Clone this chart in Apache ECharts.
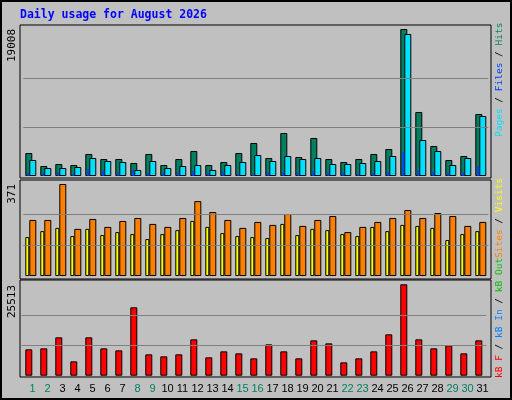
<!DOCTYPE html>
<html><head><meta charset="utf-8">
<script src="https://cdn.jsdelivr.net/npm/echarts@6/dist/echarts.min.js"></script>
<style>html,body{margin:0;padding:0;background:#c0c0c0}#c{width:512px;height:400px}</style>
</head><body><div id="c"></div>
<script>
const days = Array.from({length:31},(_,i)=>String(i+1));
const weekend = ['1','2','8','9','15','16','22','23','29','30'];
const hits  = [2974,1293,1552,1422,2845,2198,2198,1681,2845,1422,2198,3233,1422,1810,2974,4267,2327,5560,2457,4914,2198,1810,2198,2845,3491,19008,8276,3879,2069,2586,8017];
const pages = [2069,1034,1034,1164,2327,1940,1810,776,1940,1034,1293,1422,776,1422,1810,2715,1940,2586,2198,2327,1552,1552,1681,1940,2586,18362,4655,3233,1422,2327,7758];
const files = [430,390,450,300,905,700,430,800,430,400,430,650,400,500,300,200,500,520,450,600,430,400,300,400,517,3100,776,520,400,450,1293];
const visits= [157,181,194,161,190,165,177,169,149,169,185,222,198,173,161,157,153,210,165,190,185,169,161,198,181,206,202,194,145,169,181];
const sites = [226,226,371,190,230,198,222,234,210,198,234,302,258,226,194,218,206,250,202,226,242,177,198,218,234,266,234,254,242,202,218];
const kbf   = [7355,7634,10707,4003,10707,7634,7076,19086,5959,5400,5959,10148,5121,6797,6238,4841,8752,6797,4841,9869,9031,3724,4841,6797,11545,25513,10148,7634,8472,6238,9869];
const maxTop=19008, maxMid=371, maxBot=25513;

const bl = {borderColor:'#000',borderWidth:1};
function ml(m){return {silent:true,symbol:'none',label:{show:false},lineStyle:{color:'#808080',type:'solid',width:1},data:[{yAxis:m/3},{yAxis:2*m/3}]};}
function xa(g,show){return {type:'category',gridIndex:g,data:days,show:show,axisLine:{show:false},axisTick:{show:false},
  axisLabel:{show:show,interval:0,margin:6,fontFamily:'Liberation Sans',fontSize:11,
   formatter:v=>weekend.includes(v)?'{w|'+v+'}':'{n|'+v+'}',
   rich:{w:{color:'#008060',fontFamily:'Liberation Sans',fontSize:11},n:{color:'#000',fontFamily:'Liberation Sans',fontSize:11}}}};}
function ya(g,m){return {type:'value',gridIndex:g,min:0,max:m,show:false,splitLine:{show:false}};}
const F=9.5;
function vtext(x,y,parts){const f=c=>({fill:c,fontFamily:'DejaVu Sans Mono',fontSize:F});
  return {type:'text',x:x,y:y,rotation:Math.PI/2,style:{text:parts.map(p=>'{'+p[1]+'|'+p[0]+'}').join(''),align:'left',verticalAlign:'middle',
  rich:{g:f('#008060'),b:f('#0040ff'),c:f('#00e0ff'),k:f('#000'),y:f('#ffff00'),o:f('#ff8000'),gr:f('#00c000'),bl:f('#0080ff'),r:f('#ff0000')}}};}
function lt(y,t){return {type:'text',x:12,y:y,rotation:Math.PI/2,style:{text:t,align:'right',verticalAlign:'middle',fill:'#000',fontFamily:'DejaVu Sans Mono',fontSize:11}};}

const chart = echarts.init(document.getElementById('c'));
chart.setOption({
  backgroundColor:'#c0c0c0', animation:false,
  grid:[
    {left:23.3,width:465,top:29,height:147},
    {left:20.8,width:465,top:29,height:147},
    {left:23.3,width:465,top:184,height:92},
    {left:21.3,width:465,top:284.3,height:91.4},
    {left:25,width:465,top:376,height:1}
  ],
  xAxis:[xa(0,false),xa(1,false),xa(2,false),xa(3,false),xa(4,true)],
  yAxis:[ya(0,maxTop),ya(1,maxTop),ya(2,maxMid),ya(3,maxBot),ya(4,1)],
  graphic:[
    {type:'rect',shape:{x:1,y:1,width:510,height:398},style:{fill:'none',stroke:'#000',lineWidth:2},z:-1},
    {type:'rect',shape:{x:20,y:25,width:471,height:153},style:{fill:'none',stroke:'#000',lineWidth:1}},
    {type:'rect',shape:{x:20,y:180,width:471,height:99},style:{fill:'none',stroke:'#000',lineWidth:1}},
    {type:'rect',shape:{x:20,y:280,width:471,height:97},style:{fill:'none',stroke:'#000',lineWidth:1}},
    {type:'text',x:20,y:15,style:{text:'Daily usage for August 2026',fill:'#0000ff',fontFamily:'DejaVu Sans Mono',fontWeight:'bold',fontSize:11.5,verticalAlign:'middle'}},
    lt(29,'19008'),lt(184,'371'),lt(285,'25513'),
    vtext(500,137,[['Pages','c'],[' / ','k'],['Files','b'],[' / ','k'],['Hits','g']]),
    vtext(500,258,[['Sites','o'],[' / ','k'],['Visits','y']]),
    vtext(500,378,[['kB F','r'],[' / ','k'],['kB In','bl'],[' / ','k'],['kB Out','gr']])
  ],
  series:[
    {type:'bar',xAxisIndex:0,yAxisIndex:0,data:hits,barWidth:7,barGap:'-43%',itemStyle:{color:'#008060',...bl},markLine:ml(maxTop),z:2},
    {type:'bar',xAxisIndex:0,yAxisIndex:0,data:pages,barWidth:7,barGap:'-43%',itemStyle:{color:'#00e0ff',...bl},z:3},
    {type:'bar',xAxisIndex:1,yAxisIndex:1,data:files,barWidth:2,itemStyle:{color:'#0040ff',borderWidth:0},z:4},
    {type:'bar',xAxisIndex:2,yAxisIndex:2,data:visits,barWidth:4,barGap:'0%',itemStyle:{color:'#ffff00',...bl},markLine:ml(maxMid),z:2},
    {type:'bar',xAxisIndex:2,yAxisIndex:2,data:sites,barWidth:7,barGap:'0%',itemStyle:{color:'#ff8000',...bl},z:3},
    {type:'bar',xAxisIndex:3,yAxisIndex:3,data:kbf,barWidth:7,itemStyle:{color:'#ff0000',...bl},markLine:ml(maxBot),z:2}
  ]
});
</script></body></html>
